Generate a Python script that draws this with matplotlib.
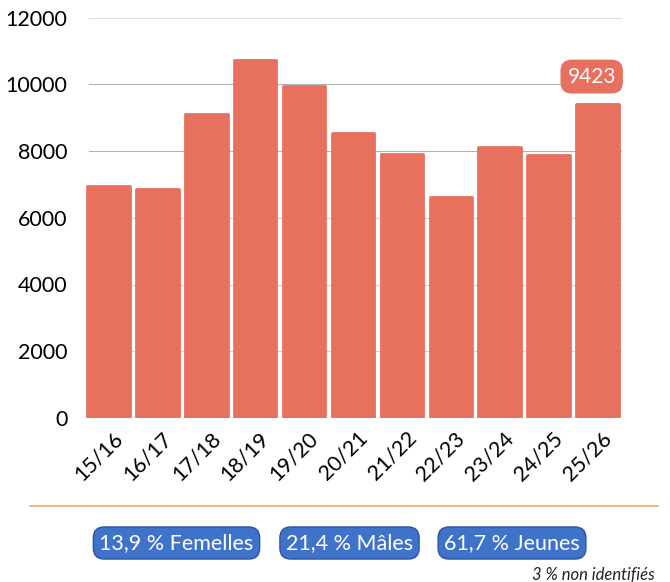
import matplotlib
matplotlib.use("Agg")
import matplotlib.pyplot as plt
import matplotlib.transforms as mtransforms
from matplotlib.lines import Line2D

plt.rcParams['font.family'] = ['Lato', 'DejaVu Sans']

seasons = ["15/16", "16/17", "17/18", "18/19", "19/20", "20/21",
           "21/22", "22/23", "23/24", "24/25", "25/26"]
counts = [6950, 6870, 9120, 10730, 9940, 8540, 7910, 6630, 8120, 7870, 9423]
y_ticks = [0, 2000, 4000, 6000, 8000, 10000, 12000]
shares = ["13,9 % Femelles", "21,4 % Mâles", "61,7 % Jeunes"]
footnote = "3 % non identifiés"

BAR = "#E8705F"
BLUE = "#3F72C9"
BLUE_EDGE = "#2A56A6"

W, H = 670, 582
fig = plt.figure(figsize=(W / 100, H / 100), dpi=100)
ax = fig.add_axes([84 / W, 164 / H, (622 - 84) / W, (418 - 17.5) / H])

x = list(range(len(seasons)))
ax.bar(x, counts, width=0.87, color=BAR, edgecolor=BAR, linewidth=2,
       joinstyle="round", zorder=3)

ax.set_xlim(-0.5, len(seasons) - 0.5)
ax.set_ylim(0, 12000)
ax.set_yticks(y_ticks)
ax.set_yticklabels([str(v) for v in y_ticks], fontsize=15.5)
for v in y_ticks[1:]:
    alpha = 0.35 if v == 12000 else (0.75 if v >= 8000 else 0.45)
    ax.axhline(v, color="#9a9a9a", lw=0.8, alpha=alpha, zorder=1,
               xmin=0.01, xmax=0.96 if v == 10000 else 1)

# season labels, slanted under each bar
ax.set_xticks(x)
ax.set_xticklabels([])
shift = mtransforms.ScaledTranslation(11 / 100, -17 / 100, fig.dpi_scale_trans)
lab_tr = ax.get_xaxis_transform() + shift
for i, s in zip(x, seasons):
    ax.text(i, 0, s, rotation=45, ha="right", va="center",
            rotation_mode="anchor", fontsize=15.5, transform=lab_tr)

ax.tick_params(length=0)
ax.tick_params(axis="y", pad=12)
for s in ax.spines.values():
    s.set_visible(False)

# value tag on the latest season
last = len(counts) - 1
ax.text(last - 0.12, 10230, f"{counts[last]}", ha="center", va="center",
        color="white", fontsize=15, zorder=5,
        bbox=dict(boxstyle="round,pad=0.3,rounding_size=0.5", fc=BAR, ec=BAR))

# separator line
fig.add_artist(Line2D([30 / W, 658 / W], [1 - 506 / H, 1 - 506 / H],
                      color="#F2A86A", lw=1.2))

# share badges
centers = [176.5, 349.5, 512]
for cx, txt in zip(centers, shares):
    fig.text(cx / W, 1 - 543 / H, txt, ha="center", va="center",
             color="white", fontsize=15.5,
             bbox=dict(boxstyle="round,pad=0.28,rounding_size=0.5",
                       fc=BLUE, ec=BLUE_EDGE, lw=1))

fig.text(655 / W, 1 - 575 / H, footnote, ha="right", va="center",
         fontsize=12, style="italic", color="#222222")

fig.savefig("out.png", dpi=100, facecolor="white")
